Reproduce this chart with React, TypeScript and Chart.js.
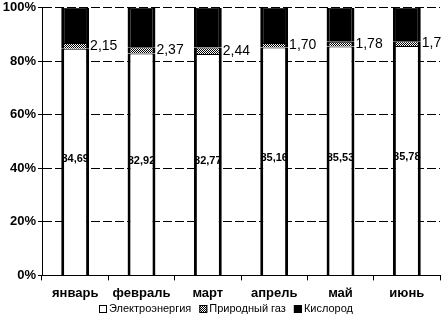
import React, { useEffect, useRef } from "react";
import { Chart, registerables } from "chart.js";

Chart.register(...registerables);

const categories = ["январь", "февраль", "март", "апрель", "май", "июнь"];
const electricity = [84.69, 82.92, 82.77, 85.16, 85.53, 85.78];
const gas = [2.15, 2.37, 2.44, 1.7, 1.78, 1.75];
const oxygen = [13.16, 14.71, 14.79, 13.14, 12.69, 12.47];
const seriesNames = ["Электроэнергия", "Природный газ", "Кислород"];
const yTicks = [0, 20, 40, 60, 80, 100];

const FONT = "'Liberation Sans', Arial, sans-serif";

function fmt(v: number) {
  return v.toFixed(2).replace(".", ",");
}

function makeHatch() {
  const c = document.createElement("canvas");
  c.width = 4;
  c.height = 4;
  const ctx = c.getContext("2d")!;
  ctx.fillStyle = "#ffffff";
  ctx.fillRect(0, 0, 4, 4);
  ctx.fillStyle = "#000000";
  const pts = [[0, 0], [2, 0], [1, 1], [3, 1], [0, 2], [2, 2], [1, 3], [3, 3]];
  pts.forEach(([x, y]) => ctx.fillRect(x, y, 1, 1));
  return ctx.createPattern(c, "repeat") as CanvasPattern;
}

const labelPlugin = {
  id: "valueLabels",
  afterDatasetsDraw(chart: any) {
    const ctx = chart.ctx;
    ctx.save();
    ctx.fillStyle = "#000";
    const m0 = chart.getDatasetMeta(0);
    ctx.font = "bold 11px " + FONT;
    ctx.textAlign = "center";
    ctx.textBaseline = "middle";
    m0.data.forEach((bar: any, i: number) => {
      const yMid = (bar.y + bar.base) / 2;
      ctx.fillText(fmt(electricity[i]), bar.x, yMid - 3);
    });
    const m1 = chart.getDatasetMeta(1);
    ctx.font = "14px " + FONT;
    ctx.textAlign = "left";
    m1.data.forEach((bar: any, i: number) => {
      const yMid = (bar.y + bar.base) / 2;
      ctx.fillText(fmt(gas[i]), bar.x + bar.width / 2 + 1, yMid);
    });
    ctx.restore();
  },
};

const legendPlugin = {
  id: "customLegend",
  afterDraw(chart: any) {
    const ctx = chart.ctx;
    ctx.save();
    ctx.font = "11px " + FONT;
    ctx.textAlign = "left";
    ctx.textBaseline = "middle";
    const yc = 309;
    let x = 99;
    chart.data.datasets.forEach((ds: any) => {
      ctx.fillStyle = ds.backgroundColor;
      ctx.fillRect(x, yc - 4, 8, 8);
      ctx.strokeStyle = "#000";
      ctx.lineWidth = 1;
      ctx.strokeRect(x + 0.5, yc - 3.5, 7, 7);
      ctx.fillStyle = "#000";
      ctx.fillText(ds.label, x + 10, yc);
      x += 10 + ctx.measureText(ds.label).width + 8;
    });
    ctx.restore();
  },
};

export default function App() {
  const ref = useRef<HTMLCanvasElement>(null);
  useEffect(() => {
    const hatch = makeHatch();
    const border = { left: 3, right: 3, top: 1, bottom: 0 };
    const fills = ["#ffffff", hatch, "#000000"];
    const values = [electricity, gas, oxygen];
    const chart = new Chart(ref.current!, {
      type: "bar",
      data: {
        labels: categories,
        datasets: seriesNames.map((name, i) => ({
          label: name,
          data: values[i],
          backgroundColor: fills[i],
          borderColor: "#000",
          borderWidth: border,
          borderSkipped: false,
        })) as any,
      },
      options: {
        animation: false,
        responsive: false,
        maintainAspectRatio: false,
        layout: { padding: { top: 0, right: 1, bottom: 13, left: 0 } },
        datasets: { bar: { barPercentage: 0.42, categoryPercentage: 1 } },
        plugins: {
          legend: { display: false },
          tooltip: { enabled: false },
        },
        scales: {
          x: {
            stacked: true,
            grid: { drawOnChartArea: false, drawTicks: true, tickLength: 5, color: "#000", offset: true },
            border: { color: "#000", width: 1 },
            ticks: {
              color: "#000",
              padding: 5,
              font: { size: 13, weight: "bold", family: FONT },
            },
          },
          y: {
            stacked: true,
            min: 0,
            max: 100,
            afterBuildTicks: (scale: any) => {
              scale.ticks = yTicks.map((v) => ({ value: v }));
            },
            afterFit: (scale: any) => {
              scale.width = 42;
            },
            grid: { color: "#000", lineWidth: 1, tickLength: 4, drawTicks: true },
            border: { display: true, color: "#000", dash: [9, 3] },
            ticks: {
              color: "#000",
              padding: 2,
              callback: (v: any) => v + "%",
              font: { size: 13, weight: "bold", family: FONT, lineHeight: 0.9 },
            },
          },
        },
      } as any,
      plugins: [labelPlugin, legendPlugin],
    });
    return () => chart.destroy();
  }, []);
  return (
    <div style={{ position: "fixed", left: 0, top: 0, width: 441, height: 319, background: "#fff" }}>
      <canvas ref={ref} width={441} height={319} />
    </div>
  );
}
